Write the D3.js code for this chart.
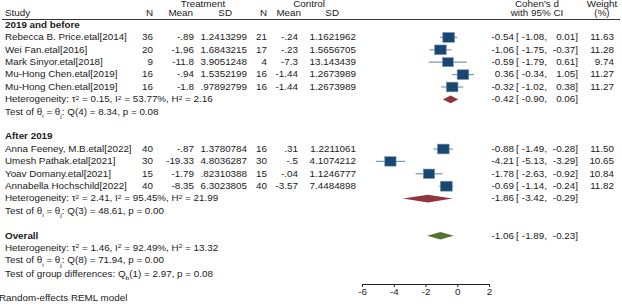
<!DOCTYPE html>
<html>
<head>
<meta charset="utf-8">
<script src="https://cdn.jsdelivr.net/npm/d3@7"></script>
<style>
body { margin: 0; background: #fff; }
text { font-family: "Liberation Sans", Arial, sans-serif; font-size: 8.2px; fill: #1a1a1a; }
</style>
</head>
<body>
<div id="forest"></div>
<script>
// study level data (as printed in the table)
var studies = ["Rebecca B. Price.etal[2014]", "Wei Fan.etal[2016]", "Mark Sinyor.etal[2018]",
  "Mu-Hong Chen.etal[2019]", "Mu-Hong Chen.etal[2019]",
  "Anna Feeney, M.B.etal[2022]", "Umesh Pathak.etal[2021]", "Yoav Domany.etal[2021]", "Annabella Hochschild[2022]"];
var group = [0, 0, 0, 0, 0, 1, 1, 1, 1];
var tN = ["36", "20", "9", "16", "16", "40", "30", "15", "40"];
var tMean = ["-.89", "-1.96", "-11.8", "-.94", "-1.8", "-.87", "-19.33", "-1.79", "-8.35"];
var tSD = ["1.2413299", "1.6843215", "3.9051248", "1.5352199", ".97892799", "1.3780784", "4.8036287", ".82310388", "6.3023805"];
var cN = ["21", "17", "4", "16", "16", "16", "30", "15", "40"];
var cMean = ["-.24", "-.23", "-7.3", "-1.44", "-1.44", ".31", "-.5", "-.04", "-3.57"];
var cSD = ["1.1621962", "1.5656705", "13.143439", "1.2673989", "1.2673989", "1.2211061", "4.1074212", "1.1246777", "7.4484898"];
var es = [-0.54, -1.06, -0.59, 0.36, -0.32, -0.88, -4.21, -1.78, -0.69];
var lo = [-1.08, -1.75, -1.79, -0.34, -1.02, -1.49, -5.13, -2.63, -1.14];
var hi = [0.01, -0.37, 0.61, 1.05, 0.38, -0.28, -3.29, -0.92, -0.24];
var weight = ["11.63", "11.28", "9.74", "11.27", "11.27", "11.50", "10.65", "10.84", "11.82"];

// subgroup and overall summaries
var groupNames = ["2019 and before", "After 2019"];
var groupEs = [-0.42, -1.86];
var groupLo = [-0.90, -3.42];
var groupHi = [0.06, -0.29];
var overallEs = -1.06, overallLo = -1.89, overallHi = -0.23;

// heterogeneity: group 1, group 2, overall
var hetTau2 = ["0.15", "2.41", "1.46"];
var hetI2 = ["53.77", "95.45", "92.49"];
var hetH2 = ["2.16", "21.99", "13.32"];
var qDf = [4, 3, 8];
var qVal = ["8.34", "48.61", "71.94"];
var qP = ["0.08", "0.00", "0.00"];
var qbDf = 1, qbVal = "2.97", qbP = "0.08";

var xTicks = [-6, -4, -2, 0, 2];

var width = 622, height = 306;
var sx = 1.2; // stata text is drawn wider than tall

var svg = d3.select("#forest")
  .append("svg")
    .attr("width", width)
    .attr("height", height);

var x = d3.scaleLinear()
  .domain([-6, 2])
  .range([362, 489]);

// row index -> y
var rowY = d3.scaleLinear()
  .domain([0, 1])
  .range([25, 37.4]);

var boxSize = d3.scaleSqrt()
  .domain([0, 12])
  .range([0, 10]);

function label(sel, xp, yp, str, anchor, bold) {
  return sel.append("text")
    .attr("transform", "translate(" + xp + "," + yp + ") scale(" + sx + ",1)")
    .attr("dy", "0.35em")
    .style("text-anchor", anchor || "start")
    .style("font-weight", bold ? "bold" : null)
    .text(str);
}

function rich(sel, xp, yp, parts) {
  var t = sel.append("text")
    .attr("transform", "translate(" + xp + "," + yp + ") scale(" + sx + ",1)")
    .attr("dy", "0.35em");
  parts.forEach(function(p) {
    var s = t.append("tspan").text(p[0]);
    if (p[1]) s.attr("baseline-shift", p[1]).style("font-size", "5.6px");
  });
  return t;
}

function f2(v) { return v.toFixed(2); }

function effectText(yp, e, l, h) {
  label(svg, 514, yp, f2(e), "end");
  label(svg, 516, yp, "[", "start");
  label(svg, 547, yp, f2(l) + ",", "end");
  label(svg, 578, yp, f2(h) + "]", "end");
}

function diamond(yp, e, l, h, color) {
  var hh = 3.8;
  svg.append("path")
    .attr("d", "M" + x(l) + "," + yp + "L" + x(e) + "," + (yp - hh) +
               "L" + x(h) + "," + yp + "L" + x(e) + "," + (yp + hh) + "Z")
    .style("fill", color);
}

function hetLines(i, r) {
  rich(svg, 5, rowY(r), [["Heterogeneity: τ"], ["2", "super"], [" = " + hetTau2[i] + ", I"], ["2", "super"],
    [" = " + hetI2[i] + "%, H"], ["2", "super"], [" = " + hetH2[i]]]);
  rich(svg, 5, rowY(r + 1), [["Test of θ"], ["i", "sub"], [" = θ"], ["j", "sub"],
    [": Q(" + qDf[i] + ") = " + qVal[i] + ", p = " + qP[i]]]);
}

// headers
label(svg, 203, 4, "Treatment", "middle");
label(svg, 309, 4, "Control", "middle");
label(svg, 537, 4, "Cohen's d", "middle");
label(svg, 602, 4, "Weight", "middle");
label(svg, 5, 13.5, "Study");
label(svg, 153, 13.5, "N", "end");
label(svg, 193, 13.5, "Mean", "end");
label(svg, 232, 13.5, "SD", "end");
label(svg, 267, 13.5, "N", "end");
label(svg, 301, 13.5, "Mean", "end");
label(svg, 339, 13.5, "SD", "end");
label(svg, 537, 13.5, "with 95% CI", "middle");
label(svg, 602, 13.5, "(%)", "middle");

svg.append("line")
  .attr("x1", 2).attr("x2", 620)
  .attr("y1", 19.5).attr("y2", 19.5)
  .style("stroke", "#333")
  .style("stroke-width", 1);

// body
var r = 0;
groupNames.forEach(function(g, gi) {
  label(svg, 5, rowY(r), g, "start", true);
  r++;
  studies.forEach(function(s, i) {
    if (group[i] !== gi) return;
    var yp = rowY(r);
    label(svg, 5, yp, s);
    label(svg, 153, yp, tN[i], "end");
    label(svg, 194, yp, tMean[i], "end");
    label(svg, 247, yp, tSD[i], "end");
    label(svg, 267, yp, cN[i], "end");
    label(svg, 298, yp, cMean[i], "end");
    label(svg, 356, yp, cSD[i], "end");

    svg.append("line")
      .attr("x1", x(lo[i])).attr("x2", x(hi[i]))
      .attr("y1", yp).attr("y2", yp)
      .style("stroke", "#7797bb")
      .style("stroke-width", 1.2);
    var b = boxSize(+weight[i]);
    svg.append("rect")
      .attr("x", x(es[i]) - b * sx / 2)
      .attr("y", yp - b / 2)
      .attr("width", b * sx)
      .attr("height", b)
      .style("fill", "#1a476f")
      .style("stroke", "#7797bb")
      .style("stroke-width", 0.6);

    effectText(yp, es[i], lo[i], hi[i]);
    label(svg, 614, yp, weight[i], "end");
    r++;
  });
  diamond(rowY(r), groupEs[gi], groupLo[gi], groupHi[gi], "#90353b");
  effectText(rowY(r), groupEs[gi], groupLo[gi], groupHi[gi]);
  hetLines(gi, r);
  r += 3;
});

label(svg, 5, rowY(r), "Overall", "start", true);
diamond(rowY(r), overallEs, overallLo, overallHi, "#55752f");
effectText(rowY(r), overallEs, overallLo, overallHi);
hetLines(2, r + 1);
rich(svg, 5, rowY(r + 3) + 1, [["Test of group differences: Q"], ["b", "sub"],
  ["(" + qbDf + ") = " + qbVal + ", p = " + qbP]]);

label(svg, -1, rowY(r + 5), "Random-effects REML model");

// x axis
var axis = svg.append("g")
  .attr("transform", "translate(0,284)")
  .call(d3.axisBottom(x)
    .tickValues(xTicks)
    .tickFormat(function(d) { return String(d); })
    .tickSize(3)
    .tickSizeOuter(0)
    .tickPadding(2));
axis.select(".domain").style("stroke", "#222");
axis.selectAll(".tick line").style("stroke", "#222");
axis.selectAll(".tick text")
  .attr("transform", "scale(" + sx + ",1)")
  .style("font-family", "'Liberation Sans', Arial, sans-serif")
  .style("font-size", "8.2px")
  .style("fill", "#1a1a1a");
</script>
</body>
</html>
